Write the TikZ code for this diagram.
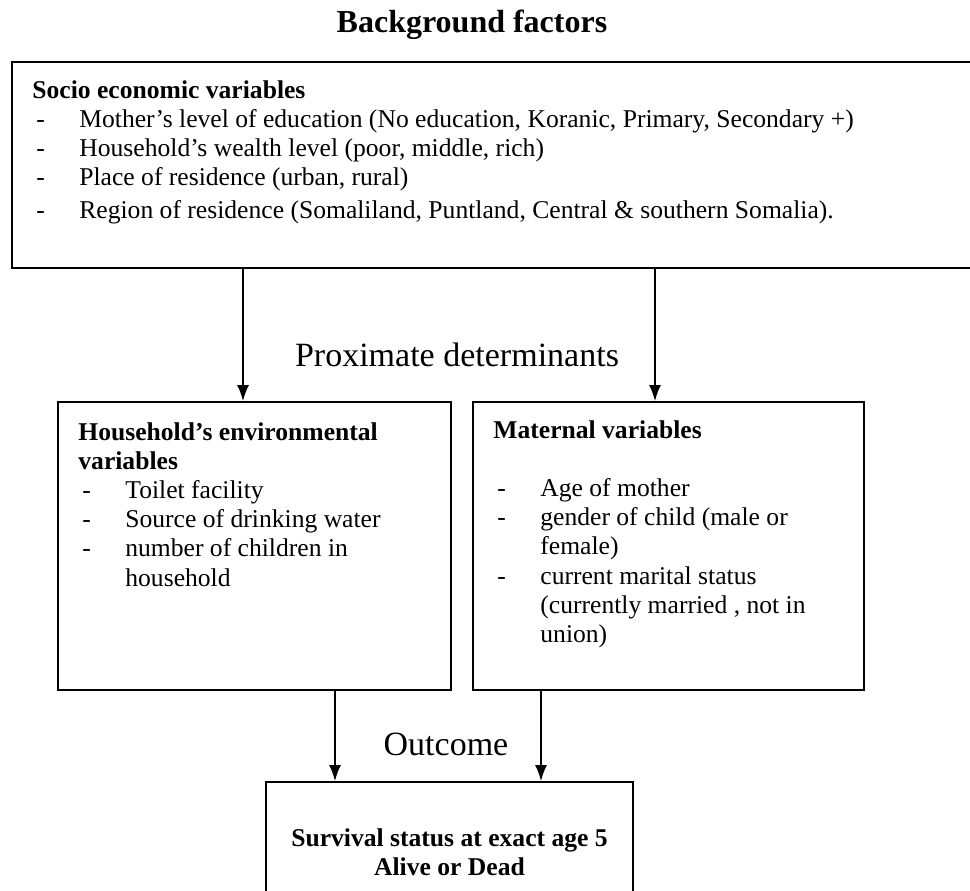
\documentclass[tikz,border=0pt]{standalone}
\usepackage{fontspec}
\setmainfont{Liberation Serif}
\usetikzlibrary{arrows.meta,positioning}

\newcommand{\itm}{\hspace*{2pt}\makebox[21.5pt][l]{-}}
\newcommand{\hang}{\hspace*{23.5pt}}

\begin{document}
\begin{tikzpicture}[x=0.5pt,y=-0.5pt,>={Latex[length=8pt,width=6pt]},
    box/.style={draw,line width=1pt,inner sep=0pt},
    txt/.style={anchor=north west,inner sep=0pt,align=left,
        font=\fontsize{12.8}{14.6}\selectfont},
    head/.style={inner sep=0pt,font=\fontsize{17}{20}\selectfont}]
    \useasboundingbox (0,0) rectangle (970,890);

    \node[head,font=\bfseries\fontsize{16}{19}\selectfont] (title) at (472,25) {Background factors};

    % boxes
    \node[box,minimum width=494pt,minimum height=103pt] (socio) at (506,165) {};
    \node[box,minimum width=196.5pt,minimum height=144pt] (env) at (254.5,546) {};
    \node[box,minimum width=195.5pt,minimum height=144pt] (mat) at (668.5,546) {};
    \node[box,minimum width=183.5pt,minimum height=60pt] (surv) at (449.5,842) {};

    % box texts
    \node[txt,below right=9.5pt and 10.5pt of socio.north west] (socio text) {%
        \textbf{Socio economic variables}\\
        \itm Mother's level of education (No education, Koranic, Primary, Secondary +)\\
        \itm Household's wealth level (poor, middle, rich)\\
        \itm Place of residence (urban, rural)\\[2pt]
        \itm Region of residence (Somaliland, Puntland, Central \& southern Somalia).};
    \node[txt,below right=10.5pt and 10.5pt of env.north west] (env text) {%
        \textbf{Household's environmental}\\
        \textbf{variables}\\
        \itm Toilet facility\\
        \itm Source of drinking water\\
        \itm number of children in\\
        \hang household};
    \node[txt,below right=9.5pt and 10.5pt of mat.north west] (mat text) {%
        \textbf{Maternal variables}\\[14.6pt]
        \itm Age of mother\\
        \itm gender of child (male or\\
        \hang female)\\
        \itm current marital status\\
        \hang (currently married , not in\\
        \hang union)};
    \node[txt,anchor=north,align=center,below=23.5pt of surv.north] (surv text) {%
        \textbf{Survival status at exact age 5}\\
        \textbf{Alive or Dead}};

    \node[head] (proximate) at (457,355) {Proximate determinants};
    \node[head] (outcome) at (446,744) {Outcome};

    % connectors
    \coordinate (c1) at (243,0);
    \coordinate (c2) at (655,0);
    \coordinate (c3) at (335,0);
    \coordinate (c4) at (541,0);
    \draw[->,line width=0.75pt] (socio.south -| c1) -- (env.north -| c1);
    \draw[->,line width=0.75pt] (socio.south -| c2) -- (mat.north -| c2);
    \draw[->,line width=0.75pt] (env.south -| c3) -- (surv.north -| c3);
    \draw[->,line width=0.75pt] (mat.south -| c4) -- (surv.north -| c4);
\end{tikzpicture}
\end{document}
